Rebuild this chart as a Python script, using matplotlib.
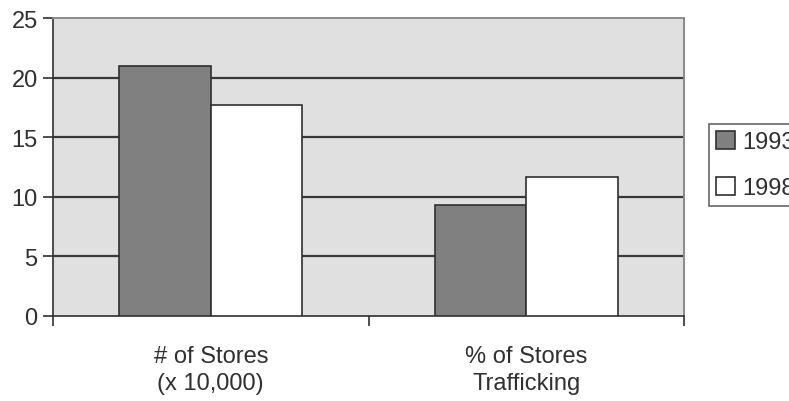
import matplotlib
matplotlib.use("Agg")
import matplotlib.pyplot as plt
import numpy as np

categories = ["# of Stores\n(x 10,000)", "% of Stores\nTrafficking"]
series_names = ["1993", "1998"]
values_1993 = [21.0, 9.3]
values_1998 = [17.7, 11.7]
y_ticks = [0, 5, 10, 15, 20, 25]

plt.rcParams["font.family"] = ["Liberation Sans", "DejaVu Sans"]

fig = plt.figure(figsize=(7.89, 4.02), dpi=100)
ax = fig.add_axes([53 / 789, 1 - 317 / 402, (684 - 53) / 789, (317 - 19) / 402])
ax.set_facecolor("#e0e0e0")

x = np.arange(len(categories))
w = 0.29
ax.bar(x - w / 2, values_1993, w, color="#808080", edgecolor="#303030",
       linewidth=1.2, label=series_names[0], zorder=3)
ax.bar(x + w / 2, values_1998, w, color="white", edgecolor="#303030",
       linewidth=1.2, label=series_names[1], zorder=3)

ax.set_xlim(-0.5, 1.5)
ax.set_ylim(0, 25)
ax.set_yticks(y_ticks)
ax.set_yticklabels([str(t) for t in y_ticks], fontsize=17, color="#303030")

# category labels centred under groups, tick marks between groups
ax.set_xticks([-0.5, 0.5, 1.5])
ax.set_xticklabels([])
ax.set_xticks(x, minor=True)
ax.set_xticklabels(categories, minor=True, fontsize=17, color="#303030",
                   linespacing=1.3)
ax.tick_params(axis="x", which="minor", length=0, pad=21)
ax.tick_params(axis="x", which="major", length=7, width=1.2, color="#303030")
ax.tick_params(axis="y", length=7, width=1.2, color="#303030", pad=4)

for yv in y_ticks[1:-1]:
    ax.axhline(yv, color="#383838", linewidth=1.6, zorder=1)

for side in ["left", "bottom"]:
    ax.spines[side].set_color("#303030")
    ax.spines[side].set_linewidth(1.2)
for side in ["top", "right"]:
    ax.spines[side].set_color("#8a8a8a")
    ax.spines[side].set_linewidth(1.4)

leg = fig.legend(loc="upper left", bbox_to_anchor=(709 / 789, 1 - 125 / 402),
                 fontsize=17, frameon=True, fancybox=False,
                 edgecolor="#404040", handlelength=0.8, handleheight=0.8,
                 handletextpad=0.3, borderpad=0.3, labelspacing=1.0,
                 borderaxespad=0)
leg.get_frame().set_linewidth(1.2)
for t in leg.get_texts():
    t.set_color("#303030")

fig.savefig("out.png", dpi=100)
